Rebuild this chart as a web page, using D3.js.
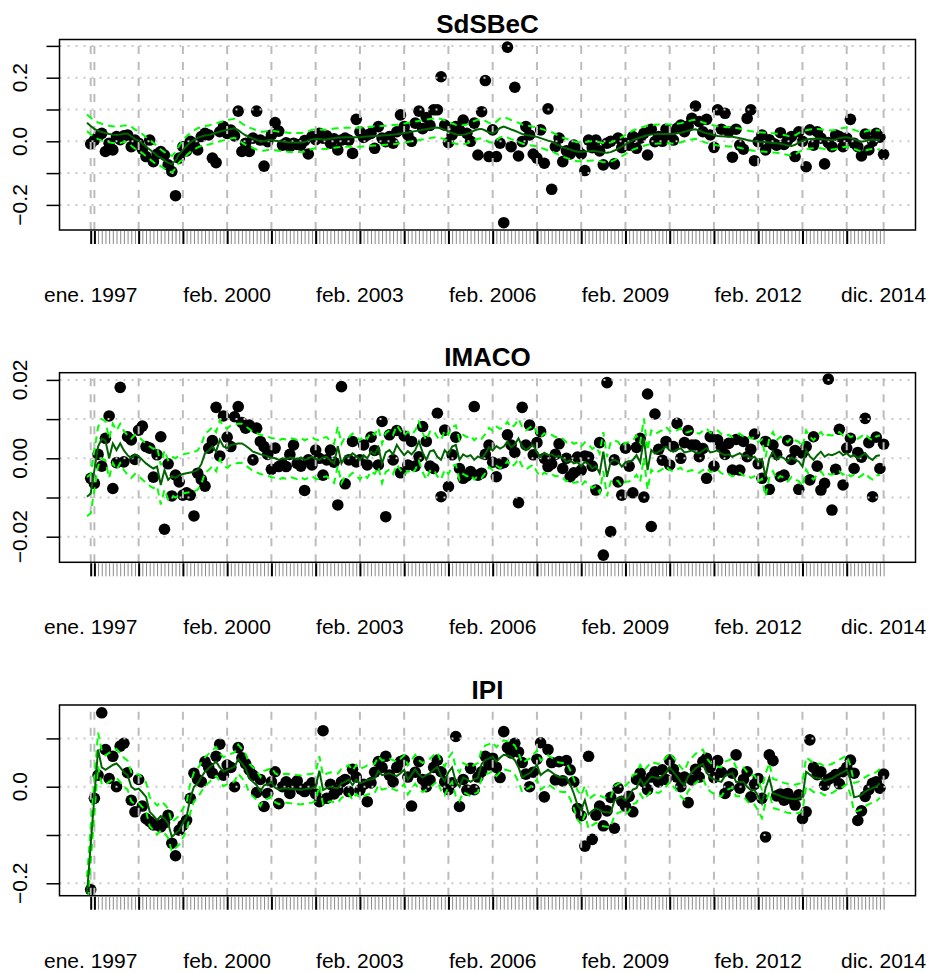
<!DOCTYPE html>
<html><head><meta charset="utf-8">
<script src="https://cdn.jsdelivr.net/npm/d3@7"></script>
<style>body{margin:0;background:#fff}</style>
</head><body>
<script>
// ---- DATA ----
const titles = ["SdSBeC","IMACO","IPI"];
const tickMonths = [0,37,73,109,145,181,215];
const tickLabels = ["ene. 1997","feb. 2000","feb. 2003","feb. 2006","feb. 2009","feb. 2012","dic. 2014"];
const gridMonths = [0,1,13,25,37,49,61,73,85,97,109,121,133,145,157,169,181,193,205,215];
const fitStartMonth = -1; // fitted/band series start one month before the observations

const yTicks1 = [-0.2,-0.1,0,0.1,0.2,0.3];
const yLabVals1 = [-0.2,0,0.2];
const yLabText1 = ["\u22120.2","0.0","0.2"];
const yTicks2 = [-0.02,-0.01,0,0.01,0.02];
const yLabVals2 = [-0.02,0,0.02];
const yLabText2 = ["\u22120.02","0.00","0.02"];
const yTicks3 = [-0.2,-0.1,0,0.1];
const yLabVals3 = [-0.2,0];
const yLabText3 = ["\u22120.2","0.0"];

const sdsbecPts = [
-0.008,0.004,0.015,0.025,-0.032,-0.006,-0.027,0.015,0.005,0.017,
0.020,-0.017,0.004,-0.006,-0.025,-0.048,0.004,-0.064,-0.040,-0.032,
-0.043,-0.074,-0.095,-0.171,-0.053,-0.017,-0.030,0.000,-0.010,-0.027,
0.015,0.025,0.020,-0.053,-0.067,0.030,0.046,0.025,0.035,0.017,
0.095,-0.032,-0.006,-0.032,0.010,0.095,0.004,-0.078,-0.001,0.020,
0.059,0.032,-0.012,-0.005,-0.017,-0.006,-0.010,-0.012,0.002,-0.040,
0.015,0.005,0.025,0.010,0.017,-0.006,0.008,-0.027,0.004,0.010,
0.004,-0.038,0.069,0.030,0.012,0.020,0.025,-0.022,0.046,0.010,
-0.001,0.015,-0.006,0.030,0.083,0.046,0.020,0.000,0.057,0.095,
0.040,0.075,0.050,0.099,0.099,0.203,0.051,-0.004,0.020,0.046,
0.036,0.067,0.025,0.000,0.057,-0.043,0.093,0.191,-0.048,0.036,
-0.048,-0.006,-0.256,0.296,-0.017,0.170,-0.046,-0.001,0.046,0.020,
-0.040,-0.053,0.036,-0.069,0.102,-0.151,-0.017,0.010,-0.064,-0.030,
-0.040,-0.012,-0.027,-0.040,-0.092,0.004,-0.020,0.004,-0.030,-0.074,
-0.006,0.000,-0.071,0.010,-0.020,-0.006,-0.012,0.015,-0.022,0.010,
0.025,-0.043,0.038,-0.001,0.015,0.000,0.038,0.020,0.004,0.041,
0.051,0.030,0.048,0.072,0.111,0.062,0.030,0.069,0.020,-0.019,
0.099,0.038,0.088,0.030,-0.050,0.038,-0.012,-0.025,0.072,0.099,
-0.061,-0.001,0.020,-0.027,0.005,-0.006,-0.012,0.027,-0.010,0.004,
0.015,-0.048,0.030,0.000,-0.080,0.036,-0.012,0.030,0.010,-0.071,
-0.004,-0.017,0.020,0.015,-0.017,0.010,0.069,-0.006,-0.017,-0.046,
0.023,-0.027,0.000,0.025,0.013,-0.041];
const sdsbecFit = [
0.058,0.048,0.039,0.033,0.029,0.026,0.023,0.021,0.020,0.021,
0.024,0.024,0.016,0.007,0.001,-0.007,-0.017,-0.026,-0.035,-0.045,
-0.052,-0.060,-0.068,-0.072,-0.060,-0.040,-0.028,-0.014,-0.004,0.004,
0.011,0.015,0.018,0.020,0.023,0.027,0.030,0.033,0.036,0.039,
0.041,0.035,0.026,0.019,0.013,0.009,0.004,0.000,0.000,0.003,
0.004,0.002,0.000,-0.001,-0.002,-0.004,-0.004,-0.004,-0.004,-0.002,
0.002,0.006,0.008,0.007,0.006,0.006,0.008,0.010,0.011,0.012,
0.013,0.013,0.013,0.013,0.013,0.014,0.015,0.016,0.017,0.017,
0.018,0.019,0.020,0.021,0.022,0.024,0.026,0.028,0.030,0.032,
0.034,0.036,0.038,0.040,0.042,0.043,0.040,0.036,0.031,0.026,
0.022,0.020,0.021,0.023,0.028,0.034,0.038,0.039,0.034,0.028,
0.025,0.032,0.042,0.046,0.042,0.037,0.033,0.028,0.023,0.020,
0.018,0.016,0.014,0.010,0.006,0.002,-0.001,-0.007,-0.013,-0.019,
-0.022,-0.026,-0.030,-0.033,-0.033,-0.032,-0.031,-0.030,-0.031,-0.033,
-0.035,-0.036,-0.034,-0.029,-0.023,-0.017,-0.010,-0.003,0.004,0.008,
0.012,0.016,0.019,0.021,0.022,0.023,0.023,0.023,0.023,0.023,
0.025,0.027,0.030,0.033,0.036,0.038,0.034,0.029,0.025,0.023,
0.020,0.017,0.016,0.015,0.014,0.014,0.012,0.010,0.007,0.004,
0.002,0.000,-0.001,-0.002,-0.003,-0.004,-0.005,-0.006,-0.008,-0.010,
-0.013,-0.015,-0.011,-0.004,0.002,0.005,0.007,0.008,0.009,0.008,
0.006,0.005,0.004,0.006,0.010,0.012,0.013,0.010,0.006,0.002,
-0.001,0.001,0.004,0.006,0.005,0.004];
const sdsbecUp = [
0.084,0.074,0.065,0.059,0.055,0.052,0.049,0.047,0.046,0.047,
0.050,0.050,0.046,0.037,0.031,0.023,0.013,0.004,-0.005,-0.015,
-0.026,-0.034,-0.042,-0.046,-0.034,-0.014,0.002,0.016,0.026,0.034,
0.041,0.045,0.048,0.050,0.053,0.057,0.060,0.063,0.066,0.069,
0.071,0.065,0.056,0.049,0.043,0.039,0.034,0.030,0.030,0.033,
0.034,0.032,0.030,0.029,0.028,0.026,0.026,0.026,0.026,0.028,
0.032,0.036,0.038,0.037,0.036,0.036,0.038,0.040,0.041,0.042,
0.043,0.043,0.043,0.043,0.043,0.044,0.045,0.046,0.047,0.047,
0.048,0.049,0.050,0.051,0.052,0.054,0.056,0.058,0.060,0.062,
0.064,0.066,0.068,0.070,0.072,0.073,0.070,0.066,0.061,0.056,
0.052,0.050,0.051,0.053,0.058,0.064,0.068,0.069,0.064,0.058,
0.055,0.062,0.072,0.076,0.072,0.067,0.063,0.058,0.053,0.050,
0.048,0.046,0.044,0.040,0.036,0.032,0.029,0.023,0.017,0.011,
0.008,0.004,0.000,-0.003,-0.003,-0.002,-0.001,0.000,-0.001,-0.003,
-0.005,-0.006,-0.004,0.001,0.007,0.013,0.020,0.027,0.034,0.038,
0.042,0.046,0.049,0.051,0.052,0.053,0.053,0.053,0.053,0.053,
0.055,0.057,0.060,0.063,0.066,0.068,0.064,0.059,0.055,0.053,
0.050,0.047,0.046,0.045,0.044,0.044,0.042,0.040,0.037,0.034,
0.032,0.030,0.029,0.028,0.027,0.026,0.025,0.024,0.022,0.020,
0.017,0.015,0.019,0.026,0.032,0.035,0.037,0.038,0.039,0.038,
0.036,0.035,0.034,0.036,0.040,0.042,0.043,0.040,0.036,0.032,
0.029,0.031,0.034,0.036,0.035,0.034];
const sdsbecLo = [
0.032,0.022,0.013,0.007,0.003,0.000,-0.003,-0.005,-0.006,-0.005,
-0.002,-0.002,-0.014,-0.023,-0.029,-0.037,-0.047,-0.056,-0.065,-0.075,
-0.078,-0.086,-0.094,-0.098,-0.086,-0.066,-0.058,-0.044,-0.034,-0.026,
-0.019,-0.015,-0.012,-0.010,-0.007,-0.003,0.000,0.003,0.006,0.009,
0.011,0.005,-0.004,-0.011,-0.017,-0.021,-0.026,-0.030,-0.030,-0.027,
-0.026,-0.028,-0.030,-0.031,-0.032,-0.034,-0.034,-0.034,-0.034,-0.032,
-0.028,-0.024,-0.022,-0.023,-0.024,-0.024,-0.022,-0.020,-0.019,-0.018,
-0.017,-0.017,-0.017,-0.017,-0.017,-0.016,-0.015,-0.014,-0.013,-0.013,
-0.012,-0.011,-0.010,-0.009,-0.008,-0.006,-0.004,-0.002,0.000,0.002,
0.004,0.006,0.008,0.010,0.012,0.013,0.010,0.006,0.001,-0.004,
-0.008,-0.010,-0.009,-0.007,-0.002,0.004,0.008,0.009,0.004,-0.002,
-0.005,0.002,0.012,0.016,0.012,0.007,0.003,-0.002,-0.007,-0.010,
-0.012,-0.014,-0.016,-0.020,-0.024,-0.028,-0.031,-0.037,-0.043,-0.049,
-0.052,-0.056,-0.060,-0.063,-0.063,-0.062,-0.061,-0.060,-0.061,-0.063,
-0.065,-0.066,-0.064,-0.059,-0.053,-0.047,-0.040,-0.033,-0.026,-0.022,
-0.018,-0.014,-0.011,-0.009,-0.008,-0.007,-0.007,-0.007,-0.007,-0.007,
-0.005,-0.003,0.000,0.003,0.006,0.008,0.004,-0.001,-0.005,-0.007,
-0.010,-0.013,-0.014,-0.015,-0.016,-0.016,-0.018,-0.020,-0.023,-0.026,
-0.028,-0.030,-0.031,-0.032,-0.033,-0.034,-0.035,-0.036,-0.038,-0.040,
-0.043,-0.045,-0.041,-0.034,-0.028,-0.025,-0.023,-0.022,-0.021,-0.022,
-0.024,-0.025,-0.026,-0.024,-0.020,-0.018,-0.017,-0.020,-0.024,-0.028,
-0.031,-0.029,-0.026,-0.024,-0.025,-0.026];

const imacoPts = [
-0.0051,-0.0064,0.0010,-0.0020,0.0051,0.0108,-0.0077,-0.0011,0.0181,-0.0009,
0.0055,0.0047,-0.0003,0.0072,0.0082,0.0030,0.0026,-0.0048,0.0009,0.0055,
-0.0181,-0.0014,-0.0096,-0.0043,-0.0060,-0.0094,-0.0088,-0.0094,-0.0147,-0.0038,
-0.0054,-0.0071,0.0026,0.0045,0.0130,0.0006,0.0108,0.0054,0.0030,0.0106,
0.0132,0.0091,0.0077,0.0085,-0.0004,0.0077,0.0043,0.0030,0.0010,-0.0028,
0.0026,-0.0021,-0.0015,-0.0021,0.0010,0.0034,-0.0013,-0.0020,-0.0082,-0.0004,
-0.0017,0.0021,0.0000,-0.0043,-0.0004,0.0021,-0.0010,-0.0119,0.0183,-0.0065,
-0.0004,0.0043,-0.0009,-0.0004,0.0034,-0.0017,0.0054,0.0020,-0.0017,0.0094,
-0.0149,0.0060,-0.0004,0.0071,-0.0037,0.0057,-0.0017,0.0043,-0.0020,0.0004,
0.0081,0.0043,-0.0020,-0.0026,0.0115,-0.0098,0.0072,-0.0072,0.0009,0.0054,
-0.0026,-0.0051,-0.0045,-0.0034,0.0132,-0.0043,-0.0038,0.0010,0.0034,-0.0010,
-0.0047,-0.0014,-0.0011,0.0060,0.0034,0.0015,-0.0113,0.0130,0.0034,0.0085,
0.0009,0.0040,0.0068,0.0000,-0.0021,-0.0014,0.0010,0.0037,-0.0026,0.0000,
-0.0047,-0.0037,0.0003,-0.0030,0.0006,0.0003,-0.0020,-0.0081,0.0040,-0.0247,
0.0193,-0.0187,-0.0004,-0.0060,-0.0094,0.0026,-0.0020,-0.0088,0.0028,0.0051,
-0.0099,0.0164,-0.0174,0.0113,0.0023,-0.0005,0.0043,-0.0017,0.0030,0.0089,
0.0000,0.0040,0.0071,0.0034,0.0034,0.0004,0.0025,-0.0051,0.0055,-0.0020,
0.0047,0.0028,0.0010,0.0038,-0.0030,0.0048,-0.0030,0.0043,0.0004,0.0023,
0.0062,-0.0014,-0.0051,0.0043,-0.0079,0.0034,0.0010,-0.0047,-0.0043,0.0045,
-0.0003,0.0020,-0.0079,0.0013,0.0030,-0.0055,0.0055,-0.0020,-0.0081,-0.0064,
0.0202,-0.0132,-0.0028,0.0074,-0.0068,0.0026,0.0051,-0.0026,0.0015,0.0003,
0.0102,0.0040,-0.0098,0.0054,-0.0026,0.0036];
const imacoFit = [
-0.0098,-0.0090,-0.0030,0.0030,0.0050,0.0045,0.0000,0.0038,0.0021,0.0038,
0.0020,0.0008,0.0000,0.0010,0.0005,-0.0004,-0.0013,-0.0020,-0.0026,-0.0021,
-0.0068,-0.0030,-0.0055,-0.0045,-0.0050,-0.0043,-0.0040,-0.0038,-0.0036,-0.0034,
-0.0030,-0.0015,0.0013,0.0020,0.0030,0.0017,0.0047,0.0030,0.0026,0.0034,
0.0036,0.0038,0.0038,0.0032,0.0025,0.0017,0.0014,0.0010,0.0008,0.0005,
0.0002,0.0000,-0.0004,0.0000,-0.0002,0.0002,0.0000,-0.0003,0.0002,-0.0004,
0.0000,0.0004,-0.0002,-0.0004,0.0002,0.0004,-0.0006,-0.0013,0.0031,-0.0013,
0.0005,0.0004,0.0013,0.0006,-0.0004,0.0008,0.0000,0.0017,0.0010,0.0028,
-0.0013,0.0015,0.0021,0.0010,0.0034,0.0020,0.0008,0.0018,0.0010,0.0021,
0.0043,0.0015,-0.0004,0.0018,0.0021,0.0004,-0.0004,0.0021,0.0010,0.0030,
0.0034,-0.0004,0.0010,0.0004,0.0008,-0.0004,0.0005,0.0000,0.0012,0.0028,
0.0020,0.0031,0.0025,0.0030,0.0043,0.0028,0.0035,0.0051,0.0030,0.0021,
0.0028,0.0034,0.0015,0.0004,0.0014,0.0008,0.0010,0.0004,0.0006,0.0000,
-0.0009,-0.0005,-0.0013,-0.0010,-0.0020,-0.0009,-0.0015,-0.0026,-0.0020,-0.0038,
0.0017,-0.0047,-0.0009,-0.0004,-0.0008,-0.0021,-0.0010,-0.0009,-0.0004,0.0008,
-0.0010,0.0051,-0.0030,0.0021,0.0012,0.0017,0.0022,0.0030,0.0020,0.0017,
0.0022,0.0026,0.0015,0.0017,0.0020,0.0015,0.0013,0.0020,0.0026,0.0015,
0.0017,0.0021,0.0012,0.0008,0.0010,0.0004,0.0009,0.0013,0.0006,0.0008,
0.0000,0.0004,-0.0009,-0.0002,-0.0047,0.0000,0.0017,-0.0004,0.0005,0.0000,
-0.0009,0.0002,-0.0004,-0.0008,-0.0021,0.0021,0.0005,-0.0004,0.0008,0.0017,
0.0004,0.0010,0.0008,0.0012,0.0017,0.0008,0.0013,0.0004,0.0008,0.0000,
0.0006,0.0013,0.0002,-0.0004,0.0006,0.0008];
const imacoUp = [
-0.0048,-0.0040,0.0020,0.0080,0.0100,0.0095,0.0050,0.0088,0.0071,0.0088,
0.0070,0.0058,0.0050,0.0060,0.0055,0.0046,0.0037,0.0030,0.0024,0.0029,
-0.0018,0.0020,-0.0005,0.0005,0.0000,0.0007,0.0010,0.0012,0.0014,0.0016,
0.0020,0.0035,0.0063,0.0070,0.0080,0.0067,0.0097,0.0080,0.0076,0.0084,
0.0086,0.0088,0.0088,0.0082,0.0075,0.0067,0.0064,0.0060,0.0058,0.0055,
0.0052,0.0050,0.0046,0.0050,0.0048,0.0052,0.0050,0.0047,0.0052,0.0046,
0.0050,0.0054,0.0048,0.0046,0.0052,0.0054,0.0044,0.0037,0.0081,0.0037,
0.0055,0.0054,0.0063,0.0056,0.0046,0.0058,0.0050,0.0067,0.0060,0.0078,
0.0037,0.0065,0.0071,0.0060,0.0084,0.0070,0.0058,0.0068,0.0060,0.0071,
0.0093,0.0065,0.0046,0.0068,0.0071,0.0054,0.0046,0.0071,0.0060,0.0080,
0.0084,0.0046,0.0060,0.0054,0.0058,0.0046,0.0055,0.0050,0.0062,0.0078,
0.0070,0.0081,0.0075,0.0080,0.0093,0.0078,0.0085,0.0101,0.0080,0.0071,
0.0078,0.0084,0.0065,0.0054,0.0064,0.0058,0.0060,0.0054,0.0056,0.0050,
0.0041,0.0045,0.0037,0.0040,0.0030,0.0041,0.0035,0.0024,0.0030,0.0012,
0.0067,0.0003,0.0041,0.0046,0.0042,0.0029,0.0040,0.0041,0.0046,0.0058,
0.0040,0.0101,0.0020,0.0071,0.0062,0.0067,0.0072,0.0080,0.0070,0.0067,
0.0072,0.0076,0.0065,0.0067,0.0070,0.0065,0.0063,0.0070,0.0076,0.0065,
0.0067,0.0071,0.0062,0.0058,0.0060,0.0054,0.0059,0.0063,0.0056,0.0058,
0.0050,0.0054,0.0041,0.0048,0.0003,0.0050,0.0067,0.0046,0.0055,0.0050,
0.0041,0.0052,0.0046,0.0042,0.0029,0.0071,0.0055,0.0046,0.0058,0.0067,
0.0054,0.0060,0.0058,0.0062,0.0067,0.0058,0.0063,0.0054,0.0058,0.0050,
0.0056,0.0063,0.0052,0.0046,0.0056,0.0058];
const imacoLo = [
-0.0148,-0.0140,-0.0080,-0.0020,0.0000,-0.0005,-0.0050,-0.0012,-0.0029,-0.0012,
-0.0030,-0.0042,-0.0050,-0.0040,-0.0045,-0.0054,-0.0063,-0.0070,-0.0076,-0.0071,
-0.0118,-0.0080,-0.0105,-0.0095,-0.0100,-0.0093,-0.0090,-0.0088,-0.0086,-0.0084,
-0.0080,-0.0065,-0.0037,-0.0030,-0.0020,-0.0033,-0.0003,-0.0020,-0.0024,-0.0016,
-0.0014,-0.0012,-0.0012,-0.0018,-0.0025,-0.0033,-0.0036,-0.0040,-0.0042,-0.0045,
-0.0048,-0.0050,-0.0054,-0.0050,-0.0052,-0.0048,-0.0050,-0.0053,-0.0048,-0.0054,
-0.0050,-0.0046,-0.0052,-0.0054,-0.0048,-0.0046,-0.0056,-0.0063,-0.0019,-0.0063,
-0.0045,-0.0046,-0.0037,-0.0044,-0.0054,-0.0042,-0.0050,-0.0033,-0.0040,-0.0022,
-0.0063,-0.0035,-0.0029,-0.0040,-0.0016,-0.0030,-0.0042,-0.0032,-0.0040,-0.0029,
-0.0007,-0.0035,-0.0054,-0.0032,-0.0029,-0.0046,-0.0054,-0.0029,-0.0040,-0.0020,
-0.0016,-0.0054,-0.0040,-0.0046,-0.0042,-0.0054,-0.0045,-0.0050,-0.0038,-0.0022,
-0.0030,-0.0019,-0.0025,-0.0020,-0.0007,-0.0022,-0.0015,-0.0001,-0.0020,-0.0029,
-0.0022,-0.0016,-0.0035,-0.0046,-0.0036,-0.0042,-0.0040,-0.0046,-0.0044,-0.0050,
-0.0059,-0.0055,-0.0063,-0.0060,-0.0070,-0.0059,-0.0065,-0.0076,-0.0070,-0.0088,
-0.0033,-0.0097,-0.0059,-0.0054,-0.0058,-0.0071,-0.0060,-0.0059,-0.0054,-0.0042,
-0.0060,0.0001,-0.0080,-0.0029,-0.0038,-0.0033,-0.0028,-0.0020,-0.0030,-0.0033,
-0.0028,-0.0024,-0.0035,-0.0033,-0.0030,-0.0035,-0.0037,-0.0030,-0.0024,-0.0035,
-0.0033,-0.0029,-0.0038,-0.0042,-0.0040,-0.0046,-0.0041,-0.0037,-0.0044,-0.0042,
-0.0050,-0.0046,-0.0059,-0.0052,-0.0097,-0.0050,-0.0033,-0.0054,-0.0045,-0.0050,
-0.0059,-0.0048,-0.0054,-0.0058,-0.0071,-0.0029,-0.0045,-0.0054,-0.0042,-0.0033,
-0.0046,-0.0040,-0.0042,-0.0038,-0.0033,-0.0042,-0.0037,-0.0046,-0.0042,-0.0050,
-0.0044,-0.0037,-0.0048,-0.0054,-0.0044,-0.0042];

const ipiPts = [
-0.213,-0.024,0.024,0.153,0.077,0.017,0.063,0.000,0.084,0.090,
0.029,-0.028,-0.052,0.015,-0.040,-0.066,-0.072,-0.079,-0.079,-0.083,
-0.075,-0.059,-0.117,-0.143,-0.090,-0.080,-0.069,-0.024,0.028,0.015,
0.010,0.052,0.040,0.028,0.063,0.088,0.024,0.045,0.040,0.000,
0.081,0.060,0.048,0.035,0.024,-0.012,0.015,-0.041,-0.014,0.010,
0.031,-0.035,0.000,0.010,-0.014,0.005,0.012,-0.005,-0.010,0.000,
0.008,-0.015,-0.031,0.116,-0.024,0.005,-0.015,-0.007,0.010,0.015,
-0.010,0.036,0.020,-0.007,0.005,-0.031,0.008,0.030,0.052,0.040,
0.063,0.024,0.010,0.040,0.052,0.055,0.020,-0.040,0.030,0.052,
0.015,0.000,0.014,0.040,0.055,0.031,0.010,-0.006,0.008,0.104,
-0.041,0.015,-0.007,0.038,-0.006,0.020,0.031,0.063,0.045,0.059,
0.040,0.019,0.114,0.081,0.070,0.090,0.072,0.050,0.026,0.000,
0.030,0.057,0.091,-0.021,0.077,0.050,0.014,0.052,0.012,0.054,
0.035,0.010,-0.045,-0.060,-0.123,0.063,-0.109,-0.059,-0.040,-0.081,
-0.050,-0.022,-0.086,-0.003,-0.030,-0.040,-0.020,-0.052,0.015,0.028,
0.010,-0.006,0.020,0.031,0.010,0.035,0.015,0.055,0.036,0.020,
0.000,0.020,-0.033,0.014,0.036,0.020,0.052,0.059,0.040,0.019,
0.054,0.030,-0.014,0.000,0.028,0.066,-0.003,0.015,0.031,-0.021,
0.005,0.017,-0.024,-0.104,0.066,0.054,-0.019,-0.015,-0.028,-0.014,
-0.025,-0.038,-0.017,-0.066,-0.052,0.097,0.040,0.025,0.031,0.003,
0.015,0.019,0.025,0.006,0.031,0.040,0.055,0.028,-0.070,-0.050,
-0.020,-0.006,0.007,0.010,-0.003,0.026];
const ipiFit = [
-0.222,-0.120,-0.020,0.077,0.040,0.035,0.040,0.045,0.048,0.040,
0.030,0.024,0.000,-0.006,-0.004,-0.012,-0.021,-0.052,-0.060,-0.069,
-0.061,-0.066,-0.076,-0.104,-0.097,-0.090,-0.075,-0.062,-0.024,0.000,
0.007,0.020,0.031,0.038,0.045,0.052,0.040,0.031,0.035,0.038,
0.041,0.057,0.048,0.038,0.017,0.010,0.003,-0.010,0.003,0.005,
0.010,-0.002,-0.006,-0.004,-0.003,-0.004,-0.005,-0.006,-0.007,-0.005,
-0.004,-0.003,0.000,0.033,-0.007,-0.003,0.000,-0.002,-0.003,0.007,
0.010,0.015,0.003,0.015,0.007,0.010,0.014,0.015,0.017,0.033,
0.024,0.026,0.028,0.025,0.022,0.028,0.035,0.014,0.025,0.036,
0.025,0.019,0.024,0.028,0.035,0.041,0.022,0.012,0.030,0.040,
0.010,0.000,0.019,0.015,0.010,0.015,0.019,0.047,0.055,0.058,
0.062,0.052,0.060,0.066,0.064,0.062,0.055,0.040,0.019,0.024,
0.028,0.036,0.045,0.024,0.030,0.035,0.030,0.024,0.020,0.019,
0.019,0.005,-0.014,-0.038,-0.048,-0.028,-0.057,-0.050,-0.045,-0.048,
-0.052,-0.053,-0.054,-0.029,-0.024,-0.021,-0.028,-0.020,-0.006,-0.003,
0.015,0.003,0.012,0.021,0.019,0.017,0.022,0.030,0.040,0.030,
0.021,0.010,0.003,0.021,0.030,0.038,0.043,0.047,0.029,0.020,
0.015,0.012,0.010,0.022,0.025,0.028,0.010,0.010,0.010,0.000,
-0.007,-0.007,-0.020,-0.035,-0.003,0.019,-0.014,-0.016,-0.019,-0.022,
-0.024,-0.025,-0.026,-0.024,-0.021,0.031,0.025,0.019,0.018,0.017,
0.012,0.015,0.017,0.022,0.026,0.030,0.035,0.014,-0.022,-0.020,
-0.017,-0.010,-0.006,-0.003,0.000,0.007];
const ipiUp = [
-0.187,-0.085,0.015,0.112,0.075,0.065,0.070,0.075,0.078,0.070,
0.060,0.054,0.030,0.024,0.026,0.018,0.009,-0.022,-0.030,-0.039,
-0.031,-0.036,-0.046,-0.074,-0.067,-0.060,-0.045,-0.032,0.006,0.030,
0.037,0.050,0.061,0.068,0.075,0.082,0.070,0.061,0.065,0.068,
0.071,0.087,0.078,0.068,0.047,0.040,0.033,0.020,0.033,0.035,
0.040,0.028,0.024,0.026,0.027,0.026,0.025,0.024,0.023,0.025,
0.026,0.027,0.030,0.063,0.023,0.027,0.030,0.028,0.027,0.037,
0.040,0.045,0.033,0.045,0.037,0.040,0.044,0.045,0.047,0.063,
0.054,0.056,0.058,0.055,0.052,0.058,0.065,0.044,0.055,0.066,
0.055,0.049,0.054,0.058,0.065,0.071,0.052,0.042,0.060,0.070,
0.040,0.030,0.049,0.045,0.040,0.045,0.049,0.077,0.085,0.088,
0.092,0.082,0.090,0.096,0.094,0.092,0.085,0.070,0.049,0.054,
0.058,0.066,0.075,0.054,0.060,0.065,0.060,0.054,0.050,0.049,
0.049,0.035,0.016,-0.008,-0.018,0.002,-0.027,-0.020,-0.015,-0.018,
-0.022,-0.023,-0.024,0.001,0.006,0.009,0.002,0.010,0.024,0.027,
0.045,0.033,0.042,0.051,0.049,0.047,0.052,0.060,0.070,0.060,
0.051,0.040,0.033,0.051,0.060,0.068,0.073,0.077,0.059,0.050,
0.045,0.042,0.040,0.052,0.055,0.058,0.040,0.040,0.040,0.030,
0.023,0.023,0.010,-0.005,0.027,0.049,0.016,0.014,0.011,0.008,
0.006,0.005,0.004,0.006,0.009,0.061,0.055,0.049,0.048,0.047,
0.042,0.045,0.047,0.052,0.056,0.060,0.065,0.044,0.008,0.010,
0.013,0.020,0.024,0.027,0.030,0.037];
const ipiLo = [
-0.257,-0.155,-0.055,0.042,0.005,0.005,0.010,0.015,0.018,0.010,
0.000,-0.006,-0.030,-0.036,-0.034,-0.042,-0.051,-0.082,-0.090,-0.099,
-0.091,-0.096,-0.106,-0.134,-0.127,-0.120,-0.105,-0.092,-0.054,-0.030,
-0.023,-0.010,0.001,0.008,0.015,0.022,0.010,0.001,0.005,0.008,
0.011,0.027,0.018,0.008,-0.013,-0.020,-0.027,-0.040,-0.027,-0.025,
-0.020,-0.032,-0.036,-0.034,-0.033,-0.034,-0.035,-0.036,-0.037,-0.035,
-0.034,-0.033,-0.030,0.003,-0.037,-0.033,-0.030,-0.032,-0.033,-0.023,
-0.020,-0.015,-0.027,-0.015,-0.023,-0.020,-0.016,-0.015,-0.013,0.003,
-0.006,-0.004,-0.002,-0.005,-0.008,-0.002,0.005,-0.016,-0.005,0.006,
-0.005,-0.011,-0.006,-0.002,0.005,0.011,-0.008,-0.018,0.000,0.010,
-0.020,-0.030,-0.011,-0.015,-0.020,-0.015,-0.011,0.017,0.025,0.028,
0.032,0.022,0.030,0.036,0.034,0.032,0.025,0.010,-0.011,-0.006,
-0.002,0.006,0.015,-0.006,0.000,0.005,0.000,-0.006,-0.010,-0.011,
-0.011,-0.025,-0.044,-0.068,-0.078,-0.058,-0.087,-0.080,-0.075,-0.078,
-0.082,-0.083,-0.084,-0.059,-0.054,-0.051,-0.058,-0.050,-0.036,-0.033,
-0.015,-0.027,-0.018,-0.009,-0.011,-0.013,-0.008,0.000,0.010,0.000,
-0.009,-0.020,-0.027,-0.009,0.000,0.008,0.013,0.017,-0.001,-0.010,
-0.015,-0.018,-0.020,-0.008,-0.005,-0.002,-0.020,-0.020,-0.020,-0.030,
-0.037,-0.037,-0.050,-0.065,-0.033,-0.011,-0.044,-0.046,-0.049,-0.052,
-0.054,-0.055,-0.056,-0.054,-0.051,0.001,-0.005,-0.011,-0.012,-0.013,
-0.018,-0.015,-0.013,-0.008,-0.004,0.000,0.005,-0.016,-0.052,-0.050,
-0.047,-0.040,-0.036,-0.033,-0.030,-0.023];

// ---- LAYOUT ----
const W = 931, H = 973;
const left = 59.5, right = 915.5;
const FONT = "'Liberation Sans', Arial, Helvetica, sans-serif";

const panels = [
  {title:titles[0], pts:sdsbecPts, fit:sdsbecFit, up:sdsbecUp, lo:sdsbecLo, top:39.5, bottom:230, dom:[-0.2789,0.3201], ticks:yTicks1, lv:yLabVals1, lt:yLabText1},
  {title:titles[1], pts:imacoPts, fit:imacoFit, up:imacoUp, lo:imacoLo, top:372.7, bottom:562.3, dom:[-0.02653,0.02184], ticks:yTicks2, lv:yLabVals2, lt:yLabText2},
  {title:titles[2], pts:ipiPts, fit:ipiFit, up:ipiUp, lo:ipiLo, top:705, bottom:895.7, dom:[-0.2257,0.1692], ticks:yTicks3, lv:yLabVals3, lt:yLabText3}
];

const x = d3.scaleLinear().domain([0,215]).range([90.7,883.6]);
const allMonths = d3.range(0,216);

const svg = d3.select("body").append("svg")
  .attr("width",W).attr("height",H)
  .style("font-family",FONT);
svg.append("rect").attr("width",W).attr("height",H).attr("fill","#fff");

panels.forEach((p,k)=>{
  const y = d3.scaleLinear().domain(p.dom).range([p.bottom,p.top]);
  const g = svg.append("g");
  const cid = "clip"+k;
  svg.append("clipPath").attr("id",cid).append("rect")
    .attr("x",left).attr("y",p.top).attr("width",right-left).attr("height",p.bottom-p.top);
  const inner = g.append("g").attr("clip-path",`url(#${cid})`);

  // points
  inner.selectAll("circle").data(p.pts).join("circle")
    .attr("cx",(d,i)=>x(i)).attr("cy",d=>y(d)).attr("r",5.8).attr("fill","#000");

  // grid (drawn over points)
  inner.selectAll("line.hg").data(p.ticks).join("line").attr("class","hg")
    .attr("x1",left).attr("x2",right).attr("y1",d=>y(d)).attr("y2",d=>y(d))
    .attr("stroke","#c8c8c8").attr("stroke-width",2).attr("stroke-dasharray","2,6");
  inner.selectAll("line.vg").data(gridMonths).join("line").attr("class","vg")
    .attr("x1",d=>x(d)).attr("x2",d=>x(d)).attr("y1",p.bottom).attr("y2",p.top)
    .attr("stroke","#bcbcbc").attr("stroke-width",2).attr("stroke-dasharray","8,8");

  // lines
  const line = d3.line().x((d,i)=>x(i+fitStartMonth)).y(d=>y(d));
  [p.up,p.lo].forEach(arr=>{
    inner.append("path").datum(arr).attr("d",line).attr("fill","none")
      .attr("stroke","#00ff00").attr("stroke-width",2).attr("stroke-dasharray","7,5");
  });
  inner.append("path").datum(p.fit).attr("d",line).attr("fill","none")
    .attr("stroke","#006400").attr("stroke-width",2);

  // box
  g.append("rect").attr("x",left).attr("y",p.top).attr("width",right-left).attr("height",p.bottom-p.top)
    .attr("fill","none").attr("stroke","#000").attr("stroke-width",1.5);

  // y axis ticks
  const ya = d3.axisLeft(y).tickValues(p.ticks).tickSize(13).tickFormat("");
  g.append("g").attr("transform",`translate(${left},0)`).call(ya)
    .call(s=>{s.select(".domain").remove(); s.selectAll("line").attr("stroke","#000").attr("stroke-width",1.5);});
  p.lv.forEach((v,j)=>{
    g.append("text").attr("transform",`translate(26.7,${y(v)}) rotate(-90)`)
      .attr("text-anchor","middle").attr("font-size",21).attr("fill","#000").text(p.lt[j]);
  });

  // x axis: monthly minor ticks + yearly major ticks
  const xm = d3.axisBottom(x).tickValues(allMonths).tickSize(13).tickFormat("");
  g.append("g").attr("transform",`translate(0,${p.bottom+1})`).call(xm)
    .call(s=>{s.select(".domain").remove(); s.selectAll("line").attr("stroke","#8a8a8a").attr("stroke-width",1);});
  const xM = d3.axisBottom(x).tickValues(gridMonths.slice(0,-1)).tickSize(13).tickFormat("");
  g.append("g").attr("transform",`translate(0,${p.bottom+1})`).call(xM)
    .call(s=>{s.select(".domain").remove(); s.selectAll("line").attr("stroke","#000").attr("stroke-width",2);});
  tickMonths.forEach((m,j)=>{
    g.append("text").attr("x",x(m)).attr("y",p.bottom+72).attr("text-anchor","middle")
      .attr("font-size",21).attr("fill","#000").text(tickLabels[j]);
  });

  // title
  g.append("text").attr("x",(left+right)/2).attr("y",p.top-6.3).attr("text-anchor","middle")
    .attr("font-size",26).attr("font-weight","bold").attr("fill","#000").text(p.title);
});
</script>
</body></html>
